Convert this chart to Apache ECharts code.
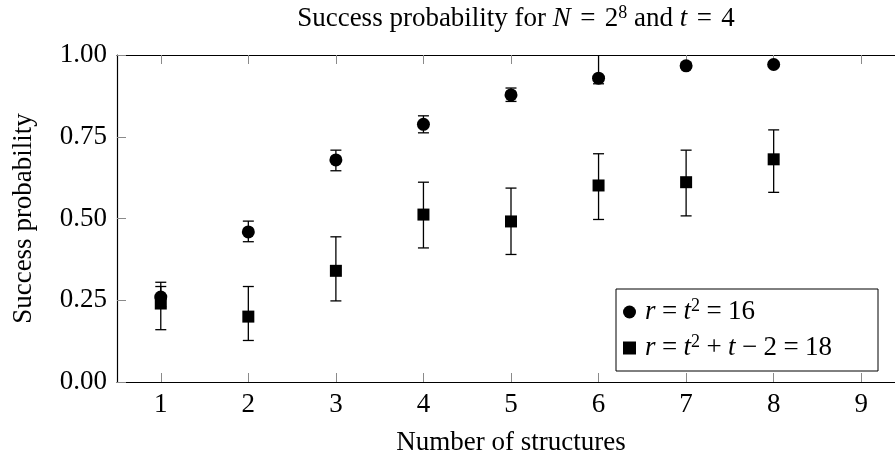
<!DOCTYPE html>
<html>
<head>
<meta charset="utf-8">
<script src="https://cdn.jsdelivr.net/npm/echarts@6/dist/echarts.min.js"></script>
<style>
  html, body { margin: 0; padding: 0; background: #fff; }
  #chart { width: 895px; height: 457px; }
</style>
</head>
<body>
<div id="chart"></div>
<script>
// number of structures
const structures = [1, 2, 3, 4, 5, 6, 7, 8]
const xTicks = [1, 2, 3, 4, 5, 6, 7, 8, 9]
const yTicks = [0, 0.25, 0.5, 0.75, 1]

// r = t^2 = 16 (circles)
const circleMean = [0.26, 0.459, 0.679, 0.788, 0.878, 0.929, 0.967, 0.971]
const circleLow  = [0.23, 0.429, 0.646, 0.762, 0.858, 0.912, 0.960, 0.965]
const circleHigh = [0.305, 0.492, 0.709, 0.814, 0.899, 1.06, 0.975, 0.978]

// r = t^2 + t - 2 = 18 (squares)
const squareMean = [0.24, 0.200, 0.340, 0.512, 0.491, 0.601, 0.611, 0.681]
const squareLow  = [0.16, 0.127, 0.248, 0.410, 0.390, 0.497, 0.508, 0.580]
const squareHigh = [0.292, 0.292, 0.444, 0.611, 0.593, 0.698, 0.709, 0.771]

const FONT = '"Liberation Serif", "DejaVu Serif", serif'
const FS = 27
const mathRich = {
  i: { fontFamily: FONT, fontStyle: 'italic', fontSize: FS, color: '#000' },
  op: { fontFamily: FONT, fontSize: FS, color: '#000', width: 28, align: 'center' },
  opt: { fontFamily: FONT, fontSize: FS, color: '#000', width: 34, align: 'center' },
  sup: { fontFamily: FONT, fontSize: 18, color: '#000', verticalAlign: 'top', lineHeight: 30 }
}

const chart = echarts.init(document.getElementById('chart'))

function errorBars(lo, hi) {
  return {
    type: 'custom',
    clip: true,
    silent: true,
    z: 1,
    data: structures.map((x, i) => [x, lo[i], hi[i]]),
    renderItem: (params, api) => {
      const top = api.coord([api.value(0), api.value(2)])
      const bot = api.coord([api.value(0), api.value(1)])
      const w = 5.5
      const style = { stroke: '#000', lineWidth: 1.3, fill: null }
      return {
        type: 'group',
        children: [
          { type: 'line', shape: { x1: top[0], y1: top[1], x2: bot[0], y2: bot[1] }, style },
          { type: 'line', shape: { x1: top[0] - w, y1: top[1], x2: top[0] + w, y2: top[1] }, style },
          { type: 'line', shape: { x1: bot[0] - w, y1: bot[1], x2: bot[0] + w, y2: bot[1] }, style }
        ]
      }
    }
  }
}

const tickStyle = { show: true, inside: true, length: 9, lineStyle: { color: '#8a8a8a', width: 1 } }
const frameLine = { show: true, onZero: false, lineStyle: { color: '#000', width: 1.2 } }

const option = {
  animation: false,
  backgroundColor: '#fff',
  title: {
    text: 'Success probability for {i|N}{opt|=}2{sup|8} and {i|t}{opt|=}4',
    left: 511,
    textAlign: 'center',
    top: -1,
    textStyle: { fontFamily: FONT, fontSize: FS, fontWeight: 'normal', color: '#000', lineHeight: 30, rich: mathRich }
  },
  grid: { left: 117, top: 55, width: 788, height: 327, outerBoundsMode: 'none' },
  legend: {
    orient: 'vertical',
    left: 616,
    top: 289,
    padding: [8, 46, 8, 7],
    itemGap: 6,
    itemWidth: 13,
    itemHeight: 13,
    borderColor: '#000',
    borderWidth: 1,
    backgroundColor: '#fff',
    data: [
      { name: 'circ', icon: 'circle' },
      { name: 'sq', icon: 'rect' }
    ],
    formatter: name => name === 'circ'
      ? '{i|r}{op|=}{i|t}{sup|2}{op|=}16'
      : '{i|r}{op|=}{i|t}{sup|2}{op|+}{i|t}{op|−}2{op|=}18',
    textStyle: { fontFamily: FONT, fontSize: FS, color: '#000', lineHeight: 30, padding: [0, 0, 0, 4], rich: mathRich }
  },
  xAxis: [
    {
      type: 'value', min: 0.5, max: 9.5, position: 'bottom',
      name: 'Number of structures', nameLocation: 'middle', nameGap: 47,
      nameTextStyle: { fontFamily: FONT, fontSize: FS, color: '#000' },
      axisLine: frameLine,
      axisTick: Object.assign({ customValues: xTicks }, tickStyle),
      axisLabel: { customValues: xTicks, fontFamily: FONT, fontSize: FS, color: '#000', margin: 9 },
      splitLine: { show: false }
    },
    {
      type: 'value', min: 0.5, max: 9.5, position: 'top',
      axisLine: frameLine,
      axisTick: Object.assign({ customValues: xTicks }, tickStyle),
      axisLabel: { show: false },
      splitLine: { show: false }
    }
  ],
  yAxis: [
    {
      type: 'value', min: 0, max: 1, interval: 0.25, position: 'left',
      name: 'Success probability', nameLocation: 'middle', nameGap: 80, nameRotate: 90,
      nameTextStyle: { fontFamily: FONT, fontSize: FS, color: '#000' },
      axisLine: frameLine,
      axisTick: Object.assign({ customValues: yTicks }, tickStyle),
      axisLabel: { customValues: yTicks, fontFamily: FONT, fontSize: FS, color: '#000', margin: 10, formatter: v => v.toFixed(2) },
      splitLine: { show: false }
    },
    {
      type: 'value', min: 0, max: 1, interval: 0.25, position: 'right',
      axisLine: frameLine,
      axisTick: Object.assign({ customValues: yTicks }, tickStyle),
      axisLabel: { show: false },
      splitLine: { show: false }
    }
  ],
  series: [
    errorBars(circleLow, circleHigh),
    errorBars(squareLow, squareHigh),
    {
      name: 'circ', type: 'scatter', symbol: 'circle', symbolSize: 13, z: 3,
      itemStyle: { color: '#000', opacity: 1 },
      data: structures.map((x, i) => [x, circleMean[i]])
    },
    {
      name: 'sq', type: 'scatter', symbol: 'rect', symbolSize: 12, z: 4,
      itemStyle: { color: '#000', opacity: 1 },
      data: structures.map((x, i) => [x, squareMean[i]])
    }
  ]
}

chart.setOption(option)
</script>
</body>
</html>
